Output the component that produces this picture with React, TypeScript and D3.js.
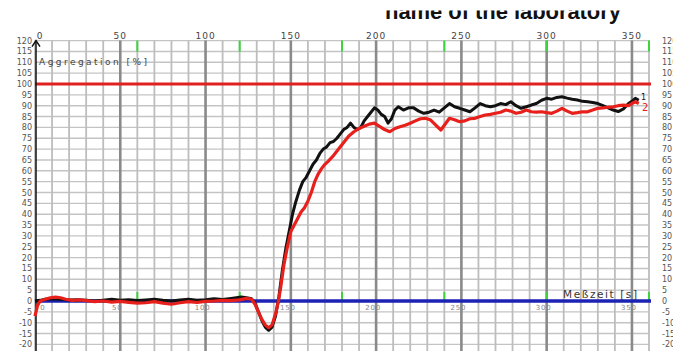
import React from "react";
import * as d3 from "d3";

// Aggregation curves: [time in s, aggregation in %]
const curve1: [number, number][] = [
  [0, 0], [3, 0.3], [6, 0.8], [10, 1], [15, 0.8], [20, 0.5], [25, 0.6], [30, 0.3], [35, 0],
  [40, 0.4], [45, 0.8], [50, 0.3], [55, 0.6], [60, 0.2], [65, 0.5], [70, 0.8], [75, 0.3],
  [80, 0], [85, 0.5], [90, 0.8], [95, 0.4], [100, 0.6], [105, 1], [110, 0.7], [115, 1.2],
  [118, 1.5], [121, 1.8], [124, 1.5], [127, 1], [129, -1], [131, -5], [133, -9], [135, -12],
  [137, -13.5], [139, -12], [141, -7], [143, 2], [145, 14], [147, 24], [149, 32], [151, 40],
  [153, 46], [155, 51], [157, 55], [159, 57], [161, 60], [163, 63], [165, 65], [167, 68],
  [169, 70], [171, 71], [173, 73], [175, 73.5], [177, 75], [179, 77], [181, 79], [183, 80],
  [185, 82], [187, 80], [189, 79], [191, 80], [193, 83], [195, 85], [197, 87], [199, 89],
  [201, 88], [203, 86], [205, 85], [207, 82], [209, 84], [211, 88], [213, 89.5], [216, 88],
  [219, 89], [222, 89], [225, 87.5], [228, 86.5], [231, 87], [234, 88], [237, 87], [240, 89],
  [243, 91], [246, 89.5], [249, 88.8], [252, 88], [255, 87.2], [258, 89], [261, 91], [264, 90],
  [267, 89.5], [270, 90], [273, 91], [276, 90.5], [279, 91.8], [282, 90], [285, 88.8],
  [288, 89.5], [291, 90.3], [294, 91], [297, 92.5], [300, 93.4], [303, 93], [306, 93.8],
  [309, 94.1], [312, 93.5], [315, 93], [318, 92.6], [321, 92], [324, 91.8], [327, 91.5],
  [330, 91], [333, 90], [336, 89], [339, 88], [342, 87.3], [345, 88.5], [348, 91], [350, 92],
  [352, 93.4], [354, 92.5],
];

const curve2: [number, number][] = [
  [0, -7], [1.5, -2], [3, 0], [6, 0.8], [9, 1.5], [12, 1.8], [15, 1.5], [18, 0.8], [22, 0.3],
  [26, 0.5], [30, 0.2], [35, -0.3], [40, 0], [45, -0.5], [50, -0.2], [55, -0.6], [60, -1],
  [65, -0.8], [70, -0.3], [75, -1], [80, -1.5], [85, -0.8], [90, -0.3], [95, -0.7], [100, -0.2],
  [105, 0], [110, 0.3], [115, 0.2], [120, 0.5], [124, 1.2], [127, 0.8], [129, -1.5], [131, -5],
  [133, -8.5], [135, -11], [137, -12.3], [139, -11], [141, -6], [142.5, -1], [144, 6], [146, 17],
  [148, 25], [150, 32], [152, 35], [154, 38], [156, 41], [158, 43], [160, 46], [162, 50],
  [164, 55], [166, 58.5], [168, 61], [170, 63], [172, 64.5], [175, 67], [178, 70], [181, 73],
  [184, 76], [187, 78], [190, 79.5], [193, 80.5], [196, 81.5], [199, 82], [202, 80.5], [205, 79],
  [208, 78], [211, 79.5], [214, 80.3], [217, 81], [220, 81.9], [223, 83], [226, 84], [229, 84.2],
  [232, 83.4], [235, 81], [238, 78.8], [240, 81], [243, 84.2], [246, 83.5], [249, 82.6],
  [252, 83], [255, 84], [258, 84.2], [261, 85], [264, 85.7], [267, 86], [270, 86.5], [273, 87],
  [276, 88], [279, 87.5], [282, 86.5], [285, 87], [288, 88], [291, 87.2], [294, 87], [297, 87.2],
  [300, 86.8], [303, 86.5], [306, 87.5], [309, 88.8], [312, 87.5], [315, 86.5], [318, 86.8],
  [321, 87.2], [324, 87.2], [327, 88], [330, 88.8], [333, 89], [336, 89.3], [339, 89.5],
  [342, 90], [345, 90.3], [348, 90], [350, 91], [352, 91.8], [354, 91],
];

const timeLabels = [0, 50, 100, 150, 200, 250, 300, 350];
const minuteMarks = [60, 120, 180, 240, 300, 360];
const yLabels = d3.range(-20, 121, 5);
const curveNames = ["1", "2"];
const title = "name of the laboratory";

const W = 678;
const H = 351;

const x = d3.scaleLinear().domain([0, 360]).range([35, 649]);
const y = d3.scaleLinear().domain([0, 100]).range([301, 84]);

const line = d3
  .line<[number, number]>()
  .x((d) => x(d[0]))
  .y((d) => y(d[1]));

export default function App() {
  const xLeft = x(0);
  const xRight = x(360);
  const yTop = y(120);
  const minorX = d3.range(0, 361, 10);
  const font = "'DejaVu Sans', Verdana, sans-serif";

  return (
    <svg
      width={W}
      height={H}
      style={{ position: "absolute", left: 0, top: 0, display: "block", background: "#fff" }}
    >
      <defs>
        <clipPath id="titleClip">
          <rect x={0} y={10.5} width={W} height={40} />
        </clipPath>
        <clipPath id="rightClip">
          <rect x={650} y={0} width={23} height={H} />
        </clipPath>
      </defs>

      <g clipPath="url(#titleClip)">
        <text
          x={385}
          y={18.5}
          fontFamily="'Liberation Sans', Arial, sans-serif"
          fontWeight="bold"
          fontSize={22}
          fill="#111"
          textLength={236}
        >
          {title}
        </text>
      </g>

      {/* horizontal grid */}
      {yLabels.map((v) => (
        <line
          key={"h" + v}
          x1={xLeft}
          x2={xRight}
          y1={y(v)}
          y2={y(v)}
          stroke="#c4c4c4"
          strokeWidth={1.4}
        />
      ))}

      {/* vertical grid: every 10 s, heavier every 50 s */}
      {minorX.map((t) => (
        <line
          key={"v" + t}
          x1={x(t)}
          x2={x(t)}
          y1={yTop}
          y2={H}
          stroke={t % 50 === 0 && t > 0 ? "#8a8a8a" : "#bdbdbd"}
          strokeWidth={t % 50 === 0 && t > 0 ? 2.6 : 1.8}
        />
      ))}

      {/* minute marks */}
      {minuteMarks.map((t) => (
        <g key={"m" + t}>
          <line x1={x(t)} x2={x(t)} y1={yTop} y2={yTop + 11} stroke="#3cd63c" strokeWidth={2} />
          <line x1={x(t)} x2={x(t)} y1={y(0) - 9} y2={y(0)} stroke="#3cd63c" strokeWidth={2} />
        </g>
      ))}

      {/* reference lines */}
      <line x1={xLeft} x2={xRight + 2} y1={y(100)} y2={y(100)} stroke="#e0201e" strokeWidth={3} />
      <line x1={xLeft} x2={xRight + 2} y1={y(0)} y2={y(0)} stroke="#1c22b4" strokeWidth={3.5} />

      {/* left axis with arrow */}
      <line x1={36} x2={36} y1={H} y2={yTop} stroke="#111" strokeWidth={1.5} />
      <path d={`M32,${yTop + 6} L36,${yTop} L40,${yTop + 6}`} fill="none" stroke="#111" strokeWidth={1.5} />

      {/* left axis labels */}
      {yLabels.map((v) => (
        <text
          key={"yl" + v}
          x={32}
          y={y(v) + 3}
          textAnchor="end"
          fontFamily={font}
          fontSize={8}
          fill="#555"
        >
          {v}
        </text>
      ))}

      {/* right axis labels */}
      <g clipPath="url(#rightClip)">
        {yLabels.map((v) => (
          <text
            key={"yr" + v}
            x={662}
            y={y(v) + 3}
            fontFamily={font}
            fontSize={8}
            fill="#555"
          >
            {v}
          </text>
        ))}
      </g>

      {/* time labels along top */}
      {timeLabels.map((t) => (
        <text
          key={"tt" + t}
          x={x(t) + (t === 0 ? 5 : 0)}
          y={39}
          textAnchor="middle"
          fontFamily={font}
          fontSize={9}
          letterSpacing={1}
          fill="#444"
        >
          {t}
        </text>
      ))}

      {/* time labels along zero line */}
      {timeLabels.map((t) => (
        <text
          key={"tb" + t}
          x={x(t) + (t === 0 ? 8 : -3)}
          y={310}
          textAnchor="middle"
          fontFamily={font}
          fontSize={7}
          letterSpacing={0.8}
          fill="#888"
        >
          {t}
        </text>
      ))}

      <text x={39} y={65} fontFamily={font} fontSize={9} fill="#444" textLength={108}>
        Aggregation [%]
      </text>
      <text x={563} y={298} fontFamily={font} fontSize={10.5} fill="#333" textLength={74}>
        Meßzeit [s]
      </text>

      {/* curves */}
      <path d={line(curve1) ?? ""} fill="none" stroke="#111" strokeWidth={3} strokeLinejoin="round" />
      <path d={line(curve2) ?? ""} fill="none" stroke="#e8201c" strokeWidth={3.2} strokeLinejoin="round" />

      <text x={641} y={100} fontFamily={font} fontSize={8} fill="#111">
        {curveNames[0]}
      </text>
      <text x={642} y={111} fontFamily={font} fontSize={10} fill="#e8201c">
        {curveNames[1]}
      </text>
    </svg>
  );
}
